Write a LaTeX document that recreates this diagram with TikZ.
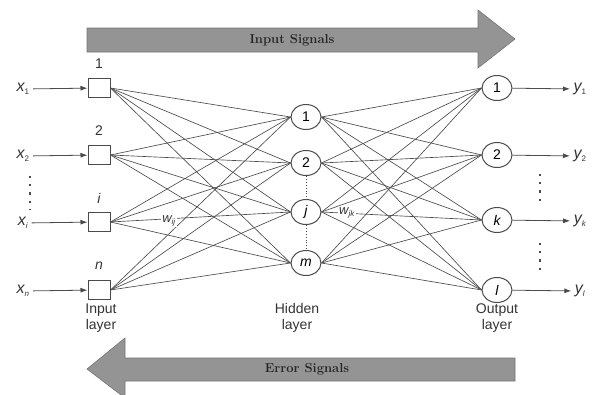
\documentclass[tikz,border=0pt]{standalone}
\usepackage{fontspec}
\setsansfont{Liberation Sans}
\usetikzlibrary{shapes.geometric,arrows.meta}
\definecolor{arrowfill}{RGB}{148,148,148}
\definecolor{arrowedge}{RGB}{115,115,115}
\definecolor{wire}{RGB}{75,75,75}
\tikzset{
  inbox/.style={draw=wire,line width=1pt,minimum width=22pt,minimum height=19pt,inner sep=0pt},
  neuron/.style={draw=wire,line width=1pt,ellipse,minimum width=30pt,minimum height=25pt,inner sep=0pt,font=\sffamily\fontsize{14}{14}\selectfont},
  wirel/.style={draw=wire,line width=0.65pt},
  sig/.style={draw=wire,line width=0.8pt,-{Latex[length=7pt,width=5pt]}},
  lbl/.style={font=\sffamily\fontsize{14}{16}\selectfont,text=black!80},
  var/.style={font=\sffamily\itshape\fontsize{16}{16}\selectfont,text=black!80},
  big/.style={fill=arrowfill,draw=arrowedge,line width=0.6pt},
  bigtext/.style={font=\bfseries\fontsize{13}{13}\selectfont,text=black!85},
  dots/.style={draw=wire,line width=2.2pt,dash pattern=on 2.2pt off 6pt}
}
\begin{document}
\begin{tikzpicture}[x=1pt,y=-1pt]
\useasboundingbox (0,0) rectangle (603,394);
% big arrows
\path[big] (87,28) -- (478,28) -- (478,10) -- (515,39) -- (478,68) -- (478,52) -- (87,52) -- cycle;
\node[bigtext] (insig) at (292,40) {Input Signals};
\path[big] (515,358) -- (125,358) -- (125,338) -- (87,369) -- (125,398) -- (125,381) -- (515,381) -- cycle;
\node[bigtext] (errsig) at (307,369) {Error Signals};
% input layer
\foreach \n/\y in {a/88, b/155, c/222, d/290}{
  \node[inbox] (in\n) at (99,\y) {};
}
\node[lbl] (tina) at (99,64) {1};
\node[lbl] (tinb) at (99,131) {2};
\node[lbl,font=\sffamily\itshape\fontsize{14}{14}\selectfont] (tinc) at (99,198) {i};
\node[lbl,font=\sffamily\itshape\fontsize{14}{14}\selectfont] (tind) at (99,266) {n};
\node[var] (xa) at (23,89) {x\textsubscript{\upshape\fontsize{8}{8}\selectfont 1}};
\node[var] (xb) at (23,156) {x\textsubscript{\upshape\fontsize{8}{8}\selectfont 2}};
\node[var] (xc) at (23,223) {x\textsubscript{\fontsize{8}{8}\selectfont i}};
\node[var] (xd) at (23,291) {x\textsubscript{\fontsize{8}{8}\selectfont n}};
\foreach \n in {a,b,c,d}{ \draw[sig] (x\n) -- (in\n); }
\coordinate (ldt) at (30,176);
\coordinate (ldb) at (30,210);
\draw[dots] (ldt) -- (ldb);
% hidden layer
\node[neuron] (ha) at (306,117) {1};
\node[neuron] (hb) at (306,163) {2};
\node[neuron] (hc) at (306,212) {\itshape j};
\node[neuron] (hd) at (306,263) {\itshape m};
\draw[draw=wire,line width=0.9pt,dotted] (hb) -- (hc);
\draw[draw=wire,line width=0.9pt,dotted] (hc) -- (hd);
% output layer
\node[neuron] (oa) at (497,88) {1};
\node[neuron] (ob) at (497,155) {2};
\node[neuron] (oc) at (497,220) {\itshape k};
\node[neuron] (od) at (497,290) {\itshape l};
\node[var] (ya) at (580,89) {y\textsubscript{\upshape\fontsize{8}{8}\selectfont 1}};
\node[var] (yb) at (580,156) {y\textsubscript{\upshape\fontsize{8}{8}\selectfont 2}};
\node[var] (yc) at (580,221) {y\textsubscript{\fontsize{8}{8}\selectfont k}};
\node[var] (yd) at (580,291) {y\textsubscript{\fontsize{8}{8}\selectfont l}};
\foreach \n in {a,b,c,d}{ \draw[sig] (o\n) -- (y\n); }
\coordinate (rdt1) at (540,174);
\coordinate (rdb1) at (540,206);
\coordinate (rdt2) at (540,243);
\coordinate (rdb2) at (540,272);
\draw[dots] (rdt1) -- (rdb1);
\draw[dots] (rdt2) -- (rdb2);
% connections
\foreach \i in {a,b,c,d}{
  \foreach \j in {a,b,c,d}{
    \draw[wirel] (in\i.east) -- (h\j.west);
    \draw[wirel] (h\i.east) -- (o\j.west);
  }
}
% weights
\node[var,fill=white,inner sep=1pt,font=\sffamily\itshape\fontsize{13}{13}\selectfont] (wij) at (169,221) {w\textsubscript{\fontsize{8}{8}\selectfont ij}};
\node[var,fill=white,inner sep=1pt,font=\sffamily\itshape\fontsize{13}{13}\selectfont] (wjk) at (347,213) {w\textsubscript{\fontsize{8}{8}\selectfont jk}};
% layer labels
\node[lbl,align=center] (lin) at (101,318) {Input\\layer};
\node[lbl,align=center] (lhid) at (297,318) {Hidden\\layer};
\node[lbl,align=center] (lout) at (497,318) {Output\\layer};
\end{tikzpicture}
\end{document}
